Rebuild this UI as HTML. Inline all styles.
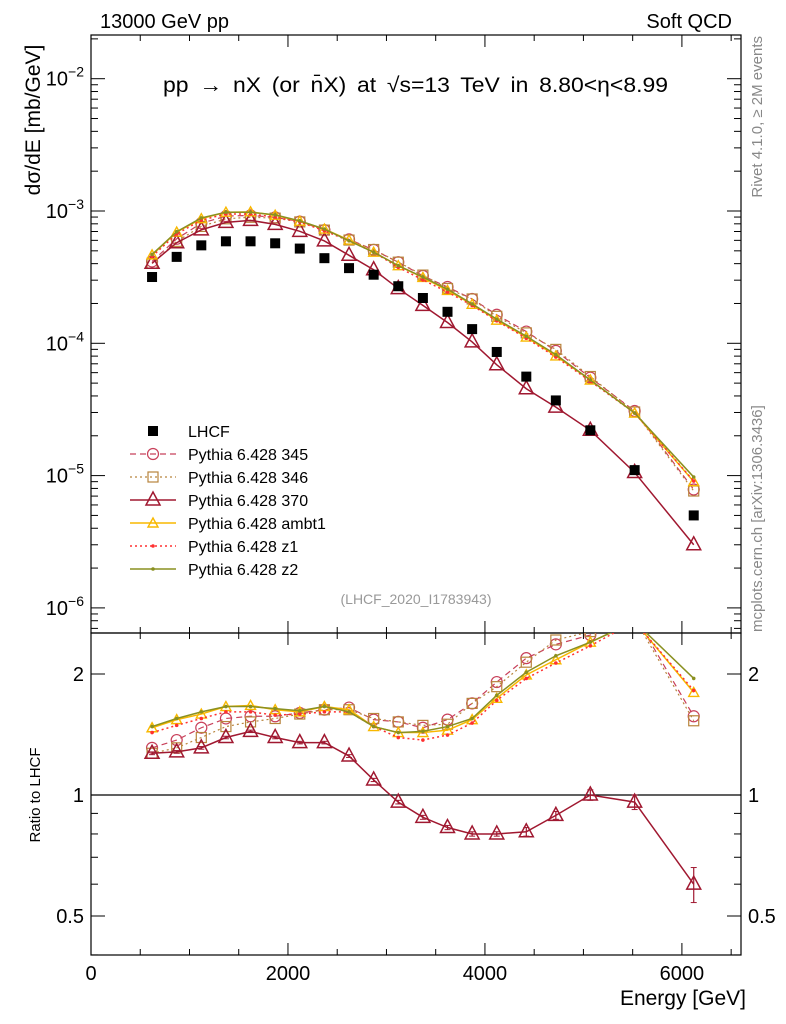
<!DOCTYPE html>
<html><head><meta charset="utf-8"><style>
html,body{margin:0;padding:0;background:#fff}
svg{display:block}
text{font-family:"Liberation Sans",sans-serif}
</style></head><body>
<svg id="c" width="786" height="1024" viewBox="0 0 786 1024">
<text x="100" y="28" font-size="20">13000 GeV pp</text>
<text x="732" y="28" font-size="20" text-anchor="end">Soft QCD</text>
<text x="163" y="92" font-size="21" word-spacing="4" textLength="505" lengthAdjust="spacingAndGlyphs">pp  →  nX (or n̄X) at √s=13 TeV in 8.80&lt;η&lt;8.99</text>
<text x="416" y="604" font-size="14" fill="#999" text-anchor="middle">(LHCF_2020_I1783943)</text>
<text transform="translate(40,120) rotate(-90)" font-size="21" text-anchor="middle">dσ/dE [mb/GeV]</text>
<text transform="translate(40,795) rotate(-90)" font-size="15" text-anchor="middle">Ratio to LHCF</text>
<text x="746" y="1005" font-size="21" text-anchor="end">Energy [GeV]</text>
<text transform="translate(762,36) rotate(-90)" font-size="15" fill="#888" text-anchor="end">Rivet 4.1.0, ≥ 2M events</text>
<text transform="translate(762,632) rotate(-90)" font-size="15" fill="#888">mcplots.cern.ch [arXiv:1306.3436]</text>
<g id="g"></g>
</svg>
<script>
const energies=[620,870,1120,1370,1620,1870,2120,2370,2620,2870,3120,3370,3620,3870,4120,4420,4720,5070,5520,6120];
const lhcf=[3.17e-4,4.5e-4,5.5e-4,5.9e-4,5.9e-4,5.7e-4,5.2e-4,4.4e-4,3.7e-4,3.3e-4,2.7e-4,2.2e-4,1.73e-4,1.28e-4,8.6e-5,5.6e-5,3.7e-5,2.2e-5,1.1e-5,5.0e-6];
const ratio345=[1.31,1.37,1.47,1.55,1.57,1.57,1.60,1.63,1.65,1.54,1.52,1.47,1.54,1.69,1.91,2.19,2.37,2.5,2.8,1.57];
const ratio346=[1.27,1.31,1.39,1.48,1.52,1.55,1.59,1.63,1.63,1.55,1.52,1.49,1.50,1.69,1.86,2.14,2.43,2.55,2.75,1.53];
const ratio370=[1.27,1.28,1.31,1.39,1.44,1.39,1.35,1.35,1.25,1.09,0.96,0.88,0.83,0.80,0.80,0.81,0.89,1.00,0.96,0.60];
const ratioAmbt1=[1.47,1.54,1.59,1.66,1.67,1.63,1.61,1.66,1.63,1.48,1.43,1.43,1.45,1.54,1.74,1.99,2.17,2.4,2.7,1.80];
const ratioZ1=[1.43,1.49,1.55,1.61,1.61,1.58,1.59,1.61,1.61,1.48,1.39,1.37,1.41,1.51,1.72,1.95,2.13,2.35,2.7,1.82];
const ratioZ2=[1.48,1.55,1.61,1.66,1.66,1.64,1.62,1.66,1.61,1.48,1.43,1.44,1.48,1.55,1.77,2.02,2.22,2.4,2.7,1.95];
const err370=[0.01,0.01,0.01,0.01,0.01,0.01,0.01,0.01,0.01,0.01,0.01,0.01,0.01,0.01,0.01,0.02,0.02,0.03,0.04,0.06];
const xTicks=[0,2000,4000,6000];
const yTicks=[-6,-5,-4,-3,-2];
const rTicks=[0.5,1,2];

const NS="http://www.w3.org/2000/svg";
const G=document.getElementById('g');
const L=91,R=741,T=35,MB=633,RB=955;
const X=v=>L+v*(R-L)/6600;
const Y=v=>211-(Math.log10(v)+3)*132.3;
const YR=v=>795-Math.log2(v)*121;
function mk(tag,at,parent){const e=document.createElementNS(NS,tag);for(const k in at)e.setAttribute(k,at[k]);(parent||G).appendChild(e);return e;}
const defs=mk('defs',{});
const c1=mk('clipPath',{id:'cm'},defs);mk('rect',{x:L,y:T,width:R-L,height:MB-T},c1);
const c2=mk('clipPath',{id:'cr'},defs);mk('rect',{x:L,y:MB,width:R-L,height:RB-MB},c2);
let f=mk('rect',{x:L,y:T,width:R-L,height:MB-T,fill:'none',stroke:'#000','stroke-width':1.2});

f=mk('rect',{x:L,y:MB,width:R-L,height:RB-MB,fill:'none',stroke:'#000','stroke-width':1.2});

let u=mk('line',{x1:L,x2:R,y1:YR(1),y2:YR(1),stroke:'#000','stroke-width':1.2});

for(let v=0;v<=6500;v+=500){const maj=v%2000===0;const l=maj?12:6;const x=X(v);
 mk('line',{x1:x,x2:x,y1:RB,y2:RB-l,stroke:'#000'});mk('line',{x1:x,x2:x,y1:MB,y2:MB+l,stroke:'#000'});
 mk('line',{x1:x,x2:x,y1:MB,y2:MB-l,stroke:'#000'});mk('line',{x1:x,x2:x,y1:T,y2:T+l,stroke:'#000'});}
xTicks.forEach(v=>{const t=mk('text',{x:X(v),y:980,'font-size':20,'text-anchor':'middle'});t.textContent=v;
 });
for(let d=-7;d<=-1;d++)for(let m=1;m<10;m++){const v=m*Math.pow(10,d);const y=Y(v);if(y<T||y>MB)continue;const l=m===1?14:7;
 mk('line',{x1:L,x2:L+l,y1:y,y2:y,stroke:'#000'});mk('line',{x1:R,x2:R-l,y1:y,y2:y,stroke:'#000'});}
yTicks.forEach(d=>{const y=Y(Math.pow(10,d));const t=mk('text',{x:84,y:y+7,'font-size':20,'text-anchor':'end'});
 t.textContent='10';const s=mk('tspan',{dy:-9,'font-size':14},t);s.textContent=String(d).replace('-','−');
 });
[0.4,0.5,0.6,0.7,0.8,0.9,1,2].forEach(v=>{const y=YR(v);const l=(v===0.5||v===1||v===2)?14:7;
 mk('line',{x1:L,x2:L+l,y1:y,y2:y,stroke:'#000'});mk('line',{x1:R,x2:R-l,y1:y,y2:y,stroke:'#000'});});
rTicks.forEach(v=>{const y=YR(v)+7;
 let t=mk('text',{x:84,y:y,'font-size':20,'text-anchor':'end'});t.textContent=v;
 
 t=mk('text',{x:748,y:y,'font-size':20});t.textContent=v;
 });
const series=[
 {name:'345',r:ratio345,c:'#c8405a',dash:'6,4',m:'circle',w:1.2},
 {name:'346',r:ratio346,c:'#b8843c',dash:'2,3',m:'square',w:1.2},
 {name:'370',r:ratio370,c:'#a01830',dash:'',m:'tri',w:1.5},
 {name:'ambt1',r:ratioAmbt1,c:'#f8b800',dash:'',m:'tris',w:1.5},
 {name:'z1',r:ratioZ1,c:'#ff3030',dash:'2,3',m:'dot',w:1.5},
 {name:'z2',r:ratioZ2,c:'#8a9020',dash:'',m:'dot',w:1.5}];
function marker(p,m,x,y,c){
 if(m==='circle')return mk('circle',{cx:x,cy:y,r:5.5,fill:'none',stroke:c,'stroke-width':1.2},p);
 if(m==='square')return mk('rect',{x:x-5,y:y-5,width:10,height:10,fill:'none',stroke:c,'stroke-width':1.2},p);
 if(m==='tri')return mk('polygon',{points:`${x},${y-8} ${x-7},${y+5} ${x+7},${y+5}`,fill:'none',stroke:c,'stroke-width':1.5},p);
 if(m==='tris')return mk('polygon',{points:`${x},${y-5} ${x-5},${y+4} ${x+5},${y+4}`,fill:'none',stroke:c,'stroke-width':1.4},p);
 return mk('circle',{cx:x,cy:y,r:1.8,fill:c},p);}
series.forEach((s,si)=>{
 const gm=mk('g',{'clip-path':'url(#cm)'});
 const gr=mk('g',{'clip-path':'url(#cr)'});
 const pm=energies.map((e,i)=>X(e)+','+Y(s.r[i]*lhcf[i])).join(' ');
 const pr=energies.map((e,i)=>X(e)+','+YR(s.r[i])).join(' ');
 mk('polyline',{points:pm,fill:'none',stroke:s.c,'stroke-width':s.w,'stroke-dasharray':s.dash},gm);
 mk('polyline',{points:pr,fill:'none',stroke:s.c,'stroke-width':s.w,'stroke-dasharray':s.dash},gr);
 energies.forEach((e,i)=>{marker(gm,s.m,X(e),Y(s.r[i]*lhcf[i]),s.c);marker(gr,s.m,X(e),YR(s.r[i]),s.c);});
 const ly=431+(si+1)*23;const lg=mk('g',{});
 mk('line',{x1:130,x2:176,y1:ly,y2:ly,stroke:s.c,'stroke-width':s.w,'stroke-dasharray':s.dash},lg);
 marker(lg,s.m,153,ly,s.c);
 const t=mk('text',{x:188,y:ly+6,'font-size':16},lg);t.textContent='Pythia 6.428 '+s.name;});
energies.forEach((e,i)=>{const x=X(e);const e1=err370[i];const gg=mk('g',{'clip-path':'url(#cr)'});
 
 mk('line',{x1:x,x2:x,y1:YR(ratio370[i]+e1),y2:YR(ratio370[i]-e1),stroke:'#a01830','stroke-width':1.2},gg);
 mk('line',{x1:x-3,x2:x+3,y1:YR(ratio370[i]+e1),y2:YR(ratio370[i]+e1),stroke:'#a01830'},gg);
 mk('line',{x1:x-3,x2:x+3,y1:YR(ratio370[i]-e1),y2:YR(ratio370[i]-e1),stroke:'#a01830'},gg);});
const gd=mk('g',{});
energies.forEach((e,i)=>{const r=mk('rect',{x:X(e)-5,y:Y(lhcf[i])-5,width:10,height:10,fill:'#000'},gd);
 });
const lg0=mk('g',{});
mk('rect',{x:148,y:426,width:10,height:10,fill:'#000'},lg0);
const t0=mk('text',{x:188,y:437,'font-size':16},lg0);t0.textContent='LHCF';
</script>
</body></html>
